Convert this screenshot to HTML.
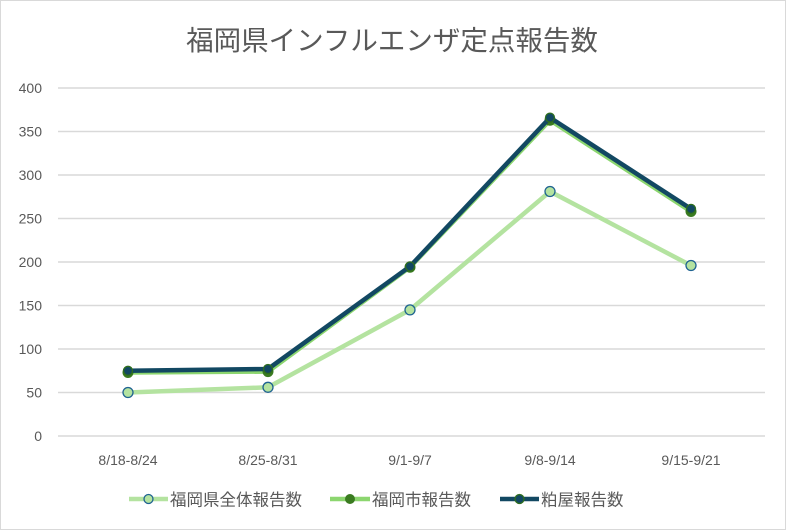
<!DOCTYPE html><html><head><meta charset="utf-8"><style>body{margin:0;background:#fff}svg{display:block}text{font-family:"Liberation Sans","Noto Sans CJK JP",sans-serif}</style></head><body>
<svg width="786" height="530" viewBox="0 0 786 530">
<rect x="0.5" y="0.5" width="785" height="529" fill="#fff" stroke="#d9d9d9"/>
<text x="392" y="50" text-anchor="middle" font-size="27.5" fill="#595959">福岡県インフルエンザ定点報告数</text>
<g stroke="#d9d9d9" stroke-width="1.5">
<line x1="58" x2="765" y1="88" y2="88"/><line x1="58" x2="765" y1="131.5" y2="131.5"/><line x1="58" x2="765" y1="175" y2="175"/><line x1="58" x2="765" y1="218.5" y2="218.5"/><line x1="58" x2="765" y1="262" y2="262"/><line x1="58" x2="765" y1="305.5" y2="305.5"/><line x1="58" x2="765" y1="349" y2="349"/><line x1="58" x2="765" y1="392.5" y2="392.5"/><line x1="58" x2="765" y1="436" y2="436"/></g>
<g font-size="14" fill="#595959" text-anchor="end">
<text x="42" y="93">400</text><text x="42" y="136.5">350</text><text x="42" y="180">300</text><text x="42" y="223.5">250</text><text x="42" y="267">200</text><text x="42" y="310.5">150</text><text x="42" y="354">100</text><text x="42" y="397.5">50</text><text x="42" y="441">0</text></g>
<g font-size="14" fill="#595959" text-anchor="middle">
<text x="128" y="465">8/18-8/24</text><text x="268" y="465">8/25-8/31</text><text x="410" y="465">9/1-9/7</text><text x="550" y="465">9/8-9/14</text><text x="691" y="465">9/15-9/21</text></g>
<polyline points="128,392.5 268,387.3 410,309.9 550,191.5 691,265.5" fill="none" stroke="#b4e3a0" stroke-width="4.5"/>
<g fill="#b4e3a0" stroke="#1f6391" stroke-width="1.3"><circle cx="128" cy="392.5" r="5"/><circle cx="268" cy="387.3" r="5"/><circle cx="410" cy="309.9" r="5"/><circle cx="550" cy="191.5" r="5"/><circle cx="691" cy="265.5" r="5"/></g>
<polyline points="128,372.5 268,371.6 410,267.2 550,120.2 691,211.5" fill="none" stroke="#8cd66f" stroke-width="4.5"/>
<g fill="#3a7b20"><circle cx="128" cy="372.5" r="5.5"/><circle cx="268" cy="371.6" r="5.5"/><circle cx="410" cy="267.2" r="5.5"/><circle cx="550" cy="120.2" r="5.5"/><circle cx="691" cy="211.5" r="5.5"/></g>
<polyline points="128,370.8 268,369 410,266.4 550,117.6 691,208.9" fill="none" stroke="#124862" stroke-width="4.5"/>
<g fill="#124862" stroke="#2e6e1e" stroke-width="1.3"><circle cx="128" cy="370.8" r="4.5"/><circle cx="268" cy="369" r="4.5"/><circle cx="410" cy="266.4" r="4.5"/><circle cx="550" cy="117.6" r="4.5"/><circle cx="691" cy="208.9" r="4.5"/></g>
<g font-size="16.5" fill="#595959">
<line x1="129" x2="168" y1="499" y2="499" stroke="#b4e3a0" stroke-width="4.5"/><circle cx="148.5" cy="499" r="4.5" fill="#b4e3a0" stroke="#1f6391" stroke-width="1.3"/><text x="170" y="505.5">福岡県全体報告数</text>
<line x1="330" x2="370" y1="499" y2="499" stroke="#8cd66f" stroke-width="4.5"/><circle cx="350" cy="499" r="5" fill="#3a7b20"/><text x="372" y="505.5">福岡市報告数</text>
<line x1="500" x2="539" y1="499" y2="499" stroke="#124862" stroke-width="4.5"/><circle cx="519.5" cy="499" r="4.5" fill="#124862" stroke="#2e6e1e" stroke-width="1.3"/><text x="541" y="505.5">粕屋報告数</text></g>
</svg></body></html>
